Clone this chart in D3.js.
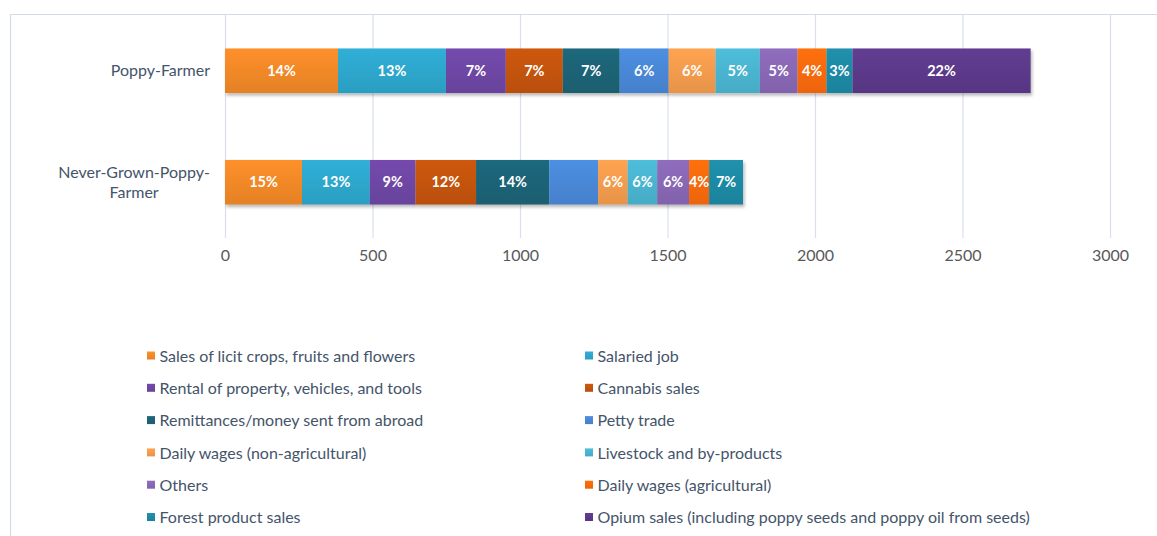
<!DOCTYPE html>
<html>
<head>
<meta charset="utf-8">
<script src="https://cdn.jsdelivr.net/npm/d3@7"></script>
<style>
  html, body { margin: 0; padding: 0; background: #ffffff; }
  svg { display: block; }
</style>
</head>
<body>
<svg id="chart" width="1157" height="536"></svg>
<script>
// Respondent groups (rows of the stacked bar)
const groups = ["Poppy-Farmer", "Never-Grown-Poppy-Farmer"];

// Income sources, in stacking order
const sources = [
  "Sales of licit crops, fruits and flowers",
  "Salaried job",
  "Rental of property, vehicles, and tools",
  "Cannabis sales",
  "Remittances/money sent from abroad",
  "Petty trade",
  "Daily wages (non-agricultural)",
  "Livestock and by-products",
  "Others",
  "Daily wages (agricultural)",
  "Forest product sales",
  "Opium sales (including poppy seeds and poppy oil from seeds)"
];

// Number of responses per source, one array per group
const poppyFarmer     = [383, 366, 203, 193, 193, 166, 159, 150, 128, 98, 88, 604];
const neverGrownPoppy = [261, 230, 155, 205, 248, 166, 100, 100, 108, 68, 115, 0];

// Segments that carry no percentage label
const unlabeled = [[], ["Petty trade"]];

const xTicks = [0, 500, 1000, 1500, 2000, 2500, 3000];

const colors = [
  "#f38a28", "#2ea8ce", "#6f47a6", "#c5540b", "#1d6477", "#4a89d8",
  "#f59d4e", "#4bb6d2", "#8a68b6", "#fc6b0b", "#1f8ba6", "#5d3a8c"
];

const FONT = "Lato, 'Open Sans', sans-serif";
const svg = d3.select("#chart");
const W = 1157, H = 536;

// Chart frame
svg.append("path")
  .attr("d", `M10.5,${H} L10.5,14.5 L${W},14.5`)
  .attr("fill", "none")
  .attr("stroke", "#d3dbea")
  .attr("stroke-width", 1.2);

const x = d3.scaleLinear().domain([0, 3000]).range([225, 1110]);
const y = d3.scaleBand().domain(groups).range([15, 238])
  .paddingInner(0.6).paddingOuter(0.3);

const defs = svg.append("defs");
colors.forEach((c, i) => {
  const g = defs.append("linearGradient")
    .attr("id", "grad" + i).attr("x1", 0).attr("y1", 0).attr("x2", 0).attr("y2", 1);
  g.append("stop").attr("offset", "0%").attr("stop-color", d3.color(c).brighter(0.12));
  g.append("stop").attr("offset", "100%").attr("stop-color", d3.color(c).darker(0.18));
});
const shadow = defs.append("filter").attr("id", "shadow")
  .attr("x", "-5%").attr("y", "-20%").attr("width", "110%").attr("height", "150%");
shadow.append("feDropShadow")
  .attr("dx", 1.5).attr("dy", 2.5).attr("stdDeviation", 1.6)
  .attr("flood-color", "#000").attr("flood-opacity", 0.28);

// Vertical gridlines
const xAxis = d3.axisBottom(x).tickValues(xTicks).tickSize(0).tickPadding(0).tickFormat(d3.format("d"));
svg.append("g")
  .selectAll("line").data(xTicks).join("line")
  .attr("x1", d => x(d) + 0.5).attr("x2", d => x(d) + 0.5)
  .attr("y1", 15).attr("y2", 238)
  .attr("stroke", "#d9dfec").attr("stroke-width", 1.2);

const axisG = svg.append("g").attr("transform", "translate(0,250)").call(xAxis);
axisG.select(".domain").remove();
axisG.selectAll("text")
  .attr("font-family", FONT)
  .attr("font-size", 16)
  .attr("fill", "#595959")
  .attr("dy", "0.71em");

// Stacked bars
const table = groups.map((g, gi) => {
  const row = { group: g };
  const vals = gi === 0 ? poppyFarmer : neverGrownPoppy;
  sources.forEach((s, si) => row[s] = vals[si]);
  return row;
});
const series = d3.stack().keys(sources)(table);

const barsG = svg.append("g");
groups.forEach((g, gi) => {
  barsG.append("g").attr("filter", "url(#shadow)")
    .selectAll("rect")
    .data(series.map((s, si) => ({ si, d: s[gi] })).filter(o => o.d[1] > o.d[0]))
    .join("rect")
    .attr("x", o => x(o.d[0]))
    .attr("width", o => x(o.d[1]) - x(o.d[0]))
    .attr("y", y(g))
    .attr("height", y.bandwidth())
    .attr("fill", o => `url(#grad${o.si})`);
});

// Percentage labels (share of the row total)
const pct = d3.format(".0%");
groups.forEach((g, gi) => {
  const total = d3.sum(gi === 0 ? poppyFarmer : neverGrownPoppy);
  barsG.append("g")
    .selectAll("text")
    .data(series.map((s, si) => ({ si, d: s[gi] }))
      .filter(o => o.d[1] > o.d[0] && !unlabeled[gi].includes(sources[o.si])))
    .join("text")
    .attr("x", o => (x(o.d[0]) + x(o.d[1])) / 2)
    .attr("y", y(g) + y.bandwidth() / 2)
    .attr("dy", "0.36em")
    .attr("text-anchor", "middle")
    .attr("font-family", FONT)
    .attr("font-weight", 700)
    .attr("font-size", 14.5)
    .attr("fill", "#ffffff")
    .text(o => pct((o.d[1] - o.d[0]) / total));
});

// Category labels
const catLines = { "Poppy-Farmer": ["Poppy-Farmer"], "Never-Grown-Poppy-Farmer": ["Never-Grown-Poppy-", "Farmer"] };
groups.forEach(g => {
  const lines = catLines[g];
  const cy = y(g) + y.bandwidth() / 2;
  const t = svg.append("text")
    .attr("font-family", FONT)
    .attr("font-size", 16)
    .attr("fill", "#44546a");
  if (lines.length === 1) {
    t.attr("x", 210).attr("y", cy).attr("dy", "0.35em").attr("text-anchor", "end").text(lines[0]);
  } else {
    // two centred lines whose right edge meets the axis gutter
    const tmp = svg.append("text").attr("font-family", FONT)
      .attr("font-size", 16).text(lines[0]);
    const w = tmp.node().getComputedTextLength();
    tmp.remove();
    const cx = 210 - w / 2;
    lines.forEach((ln, li) => {
      t.append("tspan").attr("x", cx).attr("text-anchor", "middle")
        .attr("y", cy + (li - (lines.length - 1) / 2) * 20).attr("dy", "0.35em").text(ln);
    });
  }
});

// Legend: two columns, filled row by row
const legendG = svg.append("g");
sources.forEach((s, i) => {
  const col = i % 2, row = Math.floor(i / 2);
  const lx = col === 0 ? 147 : 585;
  const ly = 356 + row * 32.3;
  legendG.append("rect")
    .attr("x", lx).attr("y", ly - 4.5).attr("width", 8).attr("height", 8)
    .attr("fill", `url(#grad${i})`);
  legendG.append("text")
    .attr("x", lx + 12.5).attr("y", ly).attr("dy", "0.35em")
    .attr("font-family", FONT)
    .attr("font-size", 16)
    .attr("fill", "#44546a")
    .text(s);
});
</script>
</body>
</html>
